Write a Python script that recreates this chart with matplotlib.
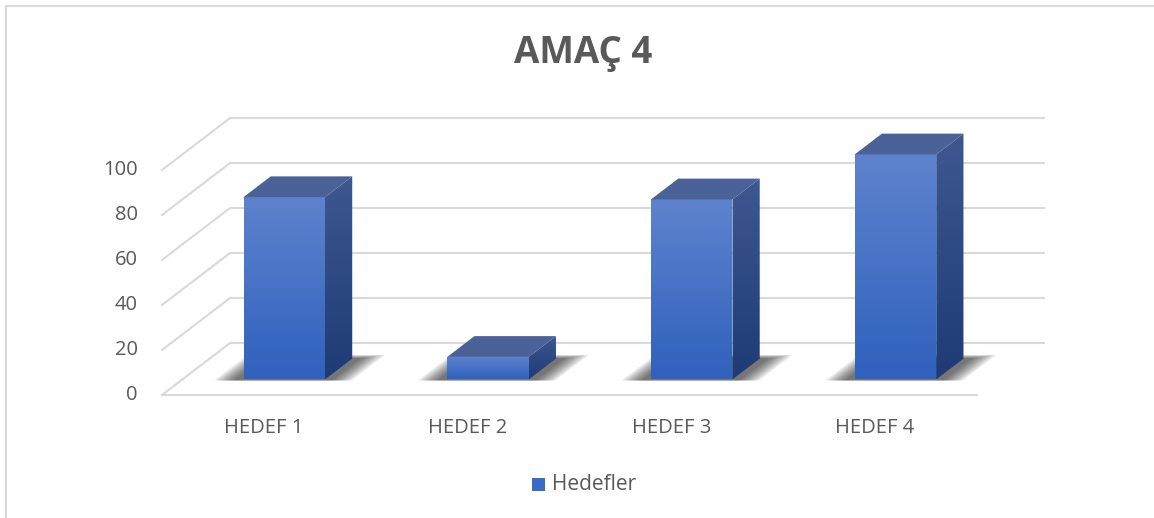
import numpy as np
import matplotlib
matplotlib.use("Agg")
import matplotlib.pyplot as plt
from matplotlib.patches import Polygon, Rectangle
from matplotlib.lines import Line2D

# data
categories = ["HEDEF 1", "HEDEF 2", "HEDEF 3", "HEDEF 4"]
values = [81, 10, 80, 100]
series_name = "Hedefler"
title = "AMAÇ 4"
yticks = [0, 20, 40, 60, 80, 100]

# oblique 3d projection, in data units (x: category, y: value)
DX, DY = 0.334, 23.1       # shift of the back wall relative to the front plane
D1, D2 = 0.3, 0.7          # depth span of the bars
HALF = 0.2                 # half bar width (category units)

TXT = "#595959"
GRID = "#d9d9d9"

plt.rcParams['font.family'] = ['Open Sans', 'DejaVu Sans']

fig = plt.figure(figsize=(11.54, 5.18), dpi=100)
ax = fig.add_axes([0, 0, 1, 1])
ax.set_xlim(-0.795, 4.869)
ax.set_ylim(-54.67, 175.56)
ax.axis("off")

n = len(categories)


def proj(x, y, d):
    return x + d * DX, y + d * DY


# walls / gridlines
for t in yticks:
    bx0, by = proj(0, t, 1)
    bx1, _ = proj(n, t, 1)
    ax.plot([bx0, bx1], [by, by], color=GRID, lw=1.5, zorder=1, solid_capstyle="butt")
    ax.plot([0, bx0], [t, by], color=GRID, lw=1.5, zorder=1)
    ax.text(-0.12, t, str(t), ha="right", va="center", fontsize=14.5, color=TXT)
ax.plot([0, n], [0, 0], color=GRID, lw=1.5, zorder=1)

for i, c in enumerate(categories):
    ax.text(i + 0.5, -14.6, c, ha="center", va="center", fontsize=14.5, color=TXT)


def grad_face(verts, c_top, c_bot, z):
    poly = Polygon(verts, closed=True, facecolor="none", edgecolor="none", zorder=z)
    ax.add_patch(poly)
    xs = [p[0] for p in verts]
    ys = [p[1] for p in verts]
    g = np.linspace(0, 1, 256)[:, None]
    ct = np.array(matplotlib.colors.to_rgb(c_top))
    cb = np.array(matplotlib.colors.to_rgb(c_bot))
    img = ct[None, None, :] * (1 - g[..., None]) + cb[None, None, :] * g[..., None]
    im = ax.imshow(img, extent=[min(xs), max(xs), min(ys), max(ys)], origin="upper",
                   aspect="auto", zorder=z, interpolation="bilinear")
    im.set_clip_path(poly)


for i, v in enumerate(values):
    xl = i + 0.5 - HALF
    xr = i + 0.5 + HALF

    # soft shadow on the floor
    for k in range(12):
        e = 0.009 * (12 - k)
        sh = [proj(xl - 0.03 - e, 0, D1 - 0.02),
              proj(xr + 0.03 + e, 0, D1 - 0.02),
              proj(xr + 0.03 + e, 0, D2 + 0.02 * (12 - k) * 0.3),
              proj(xl - 0.03 - e, 0, D2 + 0.02 * (12 - k) * 0.3)]
        ax.add_patch(Polygon(sh, closed=True, facecolor="#1a1a1a", edgecolor="none",
                             alpha=0.07, zorder=2))

    front = [proj(xl, 0, D1), proj(xr, 0, D1), proj(xr, v, D1), proj(xl, v, D1)]
    side = [proj(xr, 0, D1), proj(xr, 0, D2), proj(xr, v, D2), proj(xr, v, D1)]
    top = [proj(xl, v, D1), proj(xr, v, D1), proj(xr, v, D2), proj(xl, v, D2)]
    grad_face(front, "#5e83ce", "#2f61bd", 4)
    grad_face(side, "#3e5890", "#1e3b76", 4)
    ax.add_patch(Polygon(top, closed=True, facecolor="#4a6298", edgecolor="none", zorder=4))

# title
fig.text(0.5055, 0.897, title, ha="center", va="center", fontsize=26.5,
         fontweight="bold", color=TXT)

# legend
fig.patches.append(Rectangle((532 / 1154, 1 - 491 / 518), 13 / 1154, 13 / 518,
                             transform=fig.transFigure, facecolor="#3b69c6",
                             edgecolor="none"))
fig.text(552 / 1154, 1 - 485 / 518, series_name, ha="left", va="center",
         fontsize=15, color=TXT)

# chart border (left and top visible)
fig.lines.append(Line2D([6 / 1154, 6 / 1154], [0, 1 - 6 / 518], transform=fig.transFigure,
                        color=GRID, lw=1.5))
fig.lines.append(Line2D([6 / 1154, 1], [1 - 6 / 518, 1 - 6 / 518], transform=fig.transFigure,
                        color=GRID, lw=1.5))

fig.savefig("out.png", dpi=100)
